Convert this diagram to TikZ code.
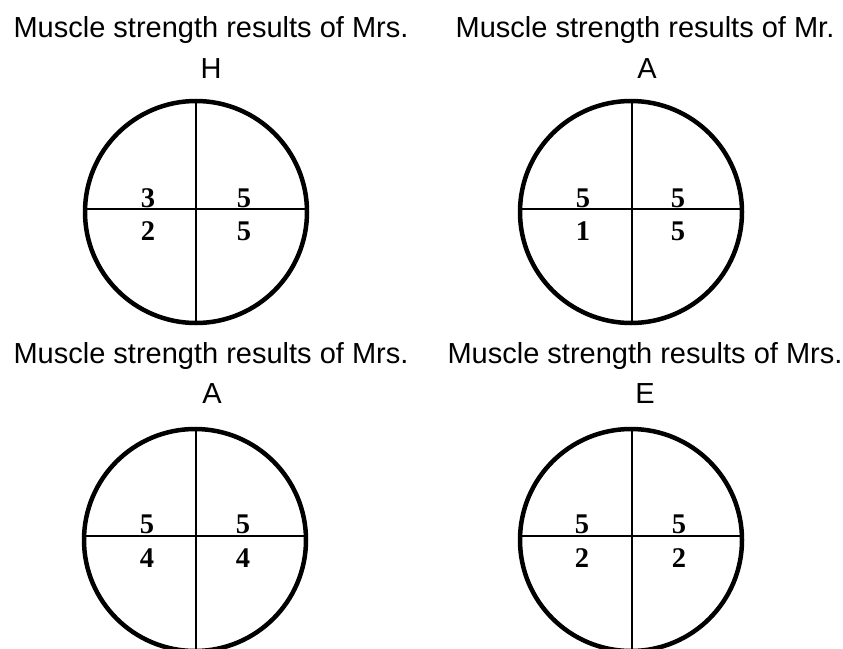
\documentclass[tikz,border=0pt]{standalone}
\usepackage{fontspec}
\setmainfont{Liberation Sans}
\newfontfamily\scorefont{Liberation Serif}

\begin{document}
\begin{tikzpicture}[x=1pt, y=-1pt,
    title/.style = {anchor=base, font=\fontsize{29}{35}\selectfont},
    score/.style = {anchor=base, font=\scorefont\bfseries\fontsize{28.5}{32}\selectfont},
    rim/.style = {line width = 4.5pt},
    cross/.style = {line width = 2.3pt}]
\useasboundingbox (0,0) rectangle (843,648);
% top left: Mrs. H
\coordinate (O1) at (196,212);
\coordinate (X1) at (196,209);
\draw[rim] (O1) circle[radius=111pt];
\draw[cross] ([yshift=-114pt]X1) -- ([yshift=108pt]X1);
\draw[cross] ([xshift=-111pt]X1) -- ([xshift=111pt]X1);
\node[title] (t1) at (211,37) {Muscle strength results of Mrs.};
\node[title] (p1) at (211,78) {H};
\node[score] (ul1) at (148,207) {3};
\node[score] (ur1) at (244,207) {5};
\node[score] (ll1) at (148,240) {2};
\node[score] (lr1) at (244,240) {5};
% top right: Mr. A
\coordinate (O2) at (631,212);
\coordinate (X2) at (632,209);
\draw[rim] (O2) circle[radius=111pt];
\draw[cross] ([yshift=-114pt]X2) -- ([yshift=108pt]X2);
\draw[cross] ([xshift=-112pt]X2) -- ([xshift=110pt]X2);
\node[title] (t2) at (645,37) {Muscle strength results of Mr.};
\node[title] (p2) at (647,78) {A};
\node[score] (ul2) at (583,207) {5};
\node[score] (ur2) at (678,207) {5};
\node[score] (ll2) at (583,240) {1};
\node[score] (lr2) at (678,240) {5};
% bottom left: Mrs. A
\coordinate (O3) at (195,540);
\coordinate (X3) at (196,536);
\draw[rim] (O3) circle[radius=111pt];
\draw[cross] ([yshift=-115pt]X3) -- ([yshift=108pt]X3);
\draw[cross] ([xshift=-112pt]X3) -- ([xshift=110pt]X3);
\node[title] (t3) at (211,363) {Muscle strength results of Mrs.};
\node[title] (p3) at (212,403) {A};
\node[score] (ul3) at (147,533.5) {5};
\node[score] (ur3) at (243,533.5) {5};
\node[score] (ll3) at (147,567) {4};
\node[score] (lr3) at (243,567) {4};
% bottom right: Mrs. E
\coordinate (O4) at (631,540);
\coordinate (X4) at (632,536);
\draw[rim] (O4) circle[radius=111pt];
\draw[cross] ([yshift=-115pt]X4) -- ([yshift=108pt]X4);
\draw[cross] ([xshift=-112pt]X4) -- ([xshift=110pt]X4);
\node[title] (t4) at (645,363) {Muscle strength results of Mrs.};
\node[title] (p4) at (645,403) {E};
\node[score] (ul4) at (582,533.5) {5};
\node[score] (ur4) at (679,533.5) {5};
\node[score] (ll4) at (582,567) {2};
\node[score] (lr4) at (679,567) {2};
\end{tikzpicture}
\end{document}
